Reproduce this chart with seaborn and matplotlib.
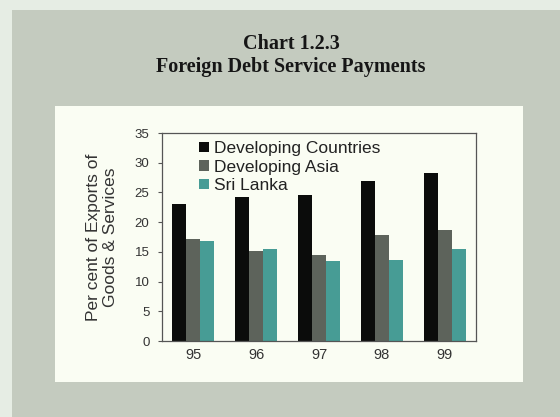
import matplotlib
matplotlib.use("Agg")
import matplotlib.pyplot as plt
from matplotlib.patches import Rectangle, Patch
import numpy as np
import pandas as pd
import seaborn as sns

# Debt service payments as % of exports of goods & services
years = ["95", "96", "97", "98", "99"]
series = ["Developing Countries", "Developing Asia", "Sri Lanka"]
developing_countries = [23.0, 24.3, 24.5, 26.9, 28.2]
developing_asia = [17.1, 15.1, 14.5, 17.8, 18.7]
sri_lanka = [16.8, 15.4, 13.5, 13.6, 15.5]
yticks = [0, 5, 10, 15, 20, 25, 30, 35]

colors = ["#0b0c0b", "#5d635b", "#479c95"]

df = pd.DataFrame({
    "year": years * 3,
    "value": developing_countries + developing_asia + sri_lanka,
    "series": [s for s in series for _ in years],
})

sns.set_theme(style="white")
plt.rcParams["font.family"] = ["Liberation Sans", "DejaVu Sans"]

W, H = 560, 417
fig = plt.figure(figsize=(W / 100, H / 100), dpi=100, facecolor="#e6ede4")

# textured card and inner white panel
fig.patches.append(Rectangle((12 / W, 0), 1 - 12 / W, 1 - 10 / H,
                             transform=fig.transFigure, facecolor="#c4cbbf",
                             edgecolor="none", zorder=0))
fig.patches.append(Rectangle((55 / W, 1 - 382 / H), 468 / W, 276 / H,
                             transform=fig.transFigure, facecolor="#fafdf3",
                             edgecolor="none", zorder=1))

fig.text(291 / W, 1 - 44 / H, "Chart 1.2.3", ha="center", va="center",
         family="Liberation Serif", weight="bold", fontsize=14.5, color="#161616")
fig.text(291 / W, 1 - 67 / H, "Foreign Debt Service Payments", ha="center",
         va="center", family="Liberation Serif", weight="bold", fontsize=14.5,
         color="#161616")

ax = fig.add_axes([162 / W, 1 - 341 / H, 314 / W, 208 / H])
ax.set_facecolor("#fafdf3")
ax.set_zorder(2)

sns.barplot(data=df, x="year", y="value", hue="series", palette=colors,
            width=0.67, gap=0, saturation=1, edgecolor="none", linewidth=0,
            ax=ax, legend=False)

ax.set_xlim(-0.5, len(years) - 0.5)
ax.set_ylim(0, 35)
ax.set_yticks(yticks)
ax.set_yticklabels([str(t) for t in yticks])
ax.set_xlabel("")
ax.set_ylabel("")

for sp in ax.spines.values():
    sp.set_visible(True)
    sp.set_color("#555555")
    sp.set_linewidth(0.9)

ax.tick_params(axis="y", which="major", left=True, length=3, width=0.8,
               color="#555555", pad=6, labelsize=9.5, labelcolor="#333333")
ax.tick_params(axis="x", which="major", bottom=False, length=0, pad=5,
               labelsize=10.5, labelcolor="#333333")

fig.text(102 / W, 1 - 237 / H, "Per cent of Exports of\nGoods & Services",
         rotation=90, ha="center", va="center", multialignment="center",
         fontsize=12.5, color="#333333", linespacing=1.2)

handles = [Patch(facecolor=c, edgecolor="none") for c in colors]
ax.legend(handles, series, loc="upper left", bbox_to_anchor=(0.118, 0.96),
          frameon=False, borderpad=0, borderaxespad=0, handlelength=0.55,
          handleheight=0.55, handletextpad=0.3, labelspacing=0.2,
          fontsize=12.5, labelcolor="#222222")

fig.savefig("out.png", dpi=100, facecolor=fig.get_facecolor())
